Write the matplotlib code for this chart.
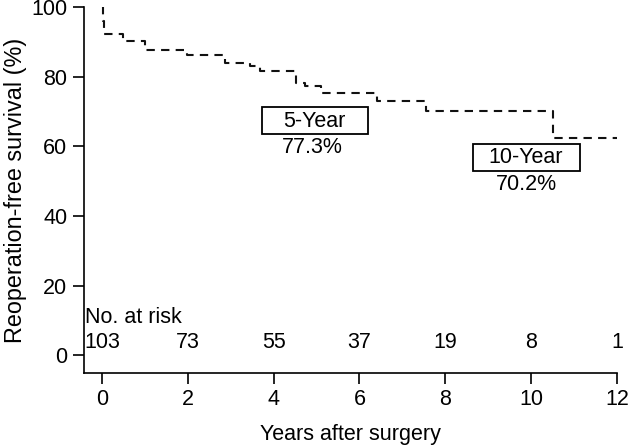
import matplotlib.pyplot as plt
from matplotlib.patches import Rectangle

plt.rcParams['font.family'] = ['Liberation Sans', 'DejaVu Sans']

# Kaplan-Meier step curve
times = [0, 0.02, 0.04, 0.48, 1.0, 1.97, 2.86, 3.44, 3.68, 4.53, 4.72, 5.11, 6.40, 7.56, 10.51, 12]
survival = [100, 96, 92.2, 90.2, 87.8, 86.2, 84.1, 83.1, 81.7, 78.3, 77.3, 75.5, 73.0, 70.2, 62.4, 62.4]

# numbers at risk
risk_years = [0, 2, 4, 6, 8, 10, 12]
at_risk = [103, 73, 55, 37, 19, 8, 1]

# milestone labels
milestones = ["5-Year", "10-Year"]
milestone_vals = ["77.3%", "70.2%"]

FS = 15.5

fig = plt.figure(figsize=(6.3, 4.45), dpi=100)
ax = fig.add_axes([0.1333, 0.1625, 0.8460, 0.8211])

ax.step(times, survival, where='post', color='#111111', linewidth=1.5,
        linestyle=(0, (4, 3)))

ax.set_xlim(-0.42, 12)
ax.set_ylim(-5, 100)
ax.set_xticks(risk_years)
ax.set_yticks([0, 20, 40, 60, 80, 100])
ax.tick_params(labelsize=FS, length=8, width=1.2, direction='out', pad=4)
for s in ['top', 'right']:
    ax.spines[s].set_visible(False)
for s in ['left', 'bottom']:
    ax.spines[s].set_linewidth(1.2)

ax.set_xlabel("Years after surgery", fontsize=FS, labelpad=10)
ax.set_ylabel("Reoperation-free survival (%)", fontsize=16.8, labelpad=3)

# number at risk table
ax.text(-0.4, 10.8, "No. at risk", fontsize=FS, ha='left', va='center')
for yr, n in zip(risk_years, at_risk):
    ax.text(yr, 3.7, str(n), fontsize=FS, ha='center', va='center')

# milestone boxes
boxes = [(3.73, 63.5, 2.48, 7.8), (8.65, 52.9, 2.49, 7.9)]
label_pos = [(4.96, 67.2), (9.88, 56.8)]
val_pos = [(4.9, 59.6), (9.88, 49.0)]
for (bx, by, bw, bh), (lx, ly), (vx, vy), lab, val in zip(boxes, label_pos, val_pos,
                                                        milestones, milestone_vals):
    ax.add_patch(Rectangle((bx, by), bw, bh, facecolor='white', edgecolor='black',
                           linewidth=1.3, zorder=3))
    ax.text(lx, ly, lab, fontsize=FS, ha='center', va='center', zorder=4)
    ax.text(vx, vy, val, fontsize=FS, ha='center', va='center', zorder=4)

fig.savefig("out.png", dpi=100)
